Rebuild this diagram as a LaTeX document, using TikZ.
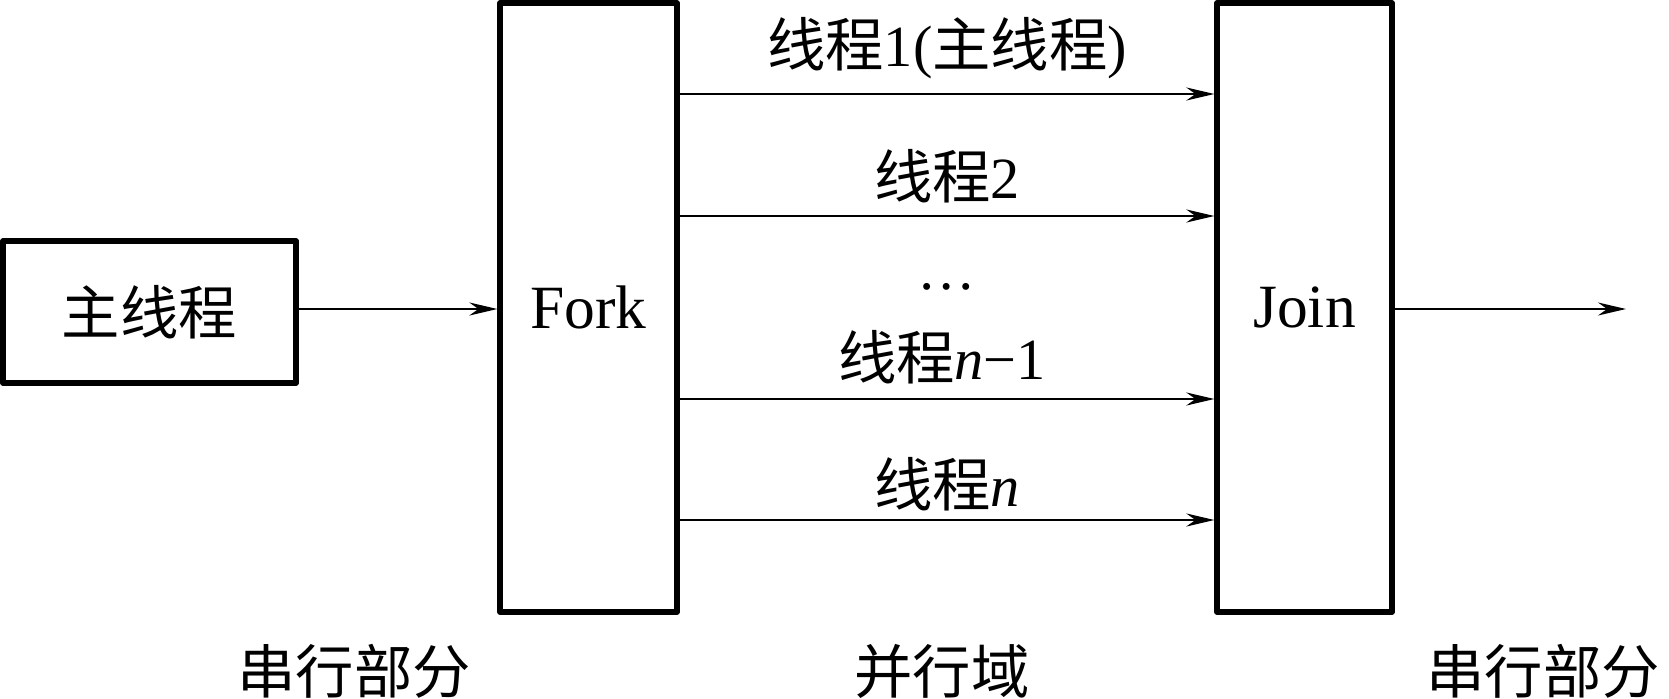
\documentclass[tikz,border=0pt]{standalone}
\usepackage{fontspec}
\setmainfont{Liberation Serif}
\newfontfamily\cjk{Noto Sans CJK SC}
\usetikzlibrary{arrows.meta,positioning}
\tikzset{
  block/.style={draw, line width=1.5pt, inner sep=0pt},
  thread/.style={line width=0.7pt, -{Stealth[length=2.8mm,width=1.3mm]}},
  lbl/.style={inner sep=0pt}
}
\begin{document}
\begin{tikzpicture}[font=\fontsize{16.6}{20}\selectfont, line join=round]
\useasboundingbox (0,0) rectangle (16.69,6.98);
\path 	(9.47,6.04) coordinate (T1)
(9.47,4.82) coordinate (T2)
(9.47,2.99) coordinate (T3)
(9.47,1.78) coordinate (T4)
(16.26,3.89) coordinate (out);
\node[block, minimum width=2.93cm, minimum height=1.42cm] (main) at (1.495,3.86) {\cjk 主线程};
\node[block, minimum width=1.77cm, minimum height=6.09cm] (fork) at (5.885,3.905) {\fontsize{17.5}{20}\selectfont Fork};
\node[block, minimum width=1.75cm, minimum height=6.09cm] (join) at (13.045,3.905) {\fontsize{17.5}{20}\selectfont Join};
\draw[thread] (main.east |- out) -- (fork.west |- out);
\draw[thread] (join.east |- out) -- (out);
\foreach \t in {T1,T2,T3,T4}
  \draw[thread] (fork.east |- \t) -- (join.west |- \t);
\node[lbl] (l1) at (9.47,6.50) {{\cjk 线程}1({\cjk 主线程})};
\node[lbl] (l2) at (9.47,5.22) {{\cjk 线程}2};
\node[lbl] (ld) at (9.47,4.11) {\dots};
\node[lbl] (l3) at (9.42,3.41) {{\cjk 线程}\textit{n}−1};
\node[lbl] (l4) at (9.47,2.14) {{\cjk 线程}\textit{n}};
% bottom captions
\node[lbl] (s1) at (3.54,0.27) {\cjk 串行部分};
\node[lbl] (p1) at (9.42,0.27) {\cjk 并行域};
\node[lbl] (s2) at (15.43,0.27) {\cjk 串行部分};
\end{tikzpicture}
\end{document}
